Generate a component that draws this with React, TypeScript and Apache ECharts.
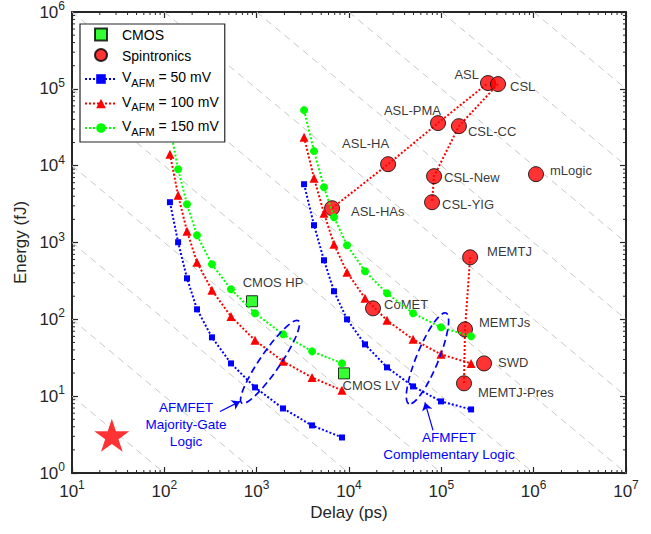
import React, { useEffect, useRef } from 'react';
import * as echarts from 'echarts';

// ---------------- data ----------------
const delayGroup1 = [115, 141, 176, 226, 328, 527, 960, 1930, 3980, 8400];
const delayGroup2 = [3260, 4180, 5360, 6880, 9520, 14900, 25800, 49400, 99200, 210000];

const energy50mV_1 = [3345, 1008, 342, 135, 58.3, 26.7, 13.0, 6.92, 4.16, 2.9];
const energy50mV_2 = [5741, 1679, 587, 232, 100, 47.2, 23.7, 13.4, 8.55, 6.72];
const energy100mV_1 = [14120, 4127, 1402, 553, 239, 109, 53.3, 28.4, 17.5, 11.9];
const energy100mV_2 = [23500, 6874, 2405, 948, 410, 188, 97.0, 54.9, 35.0, 26.7];
const energy150mV_1 = [31760, 9000, 3150, 1243, 521, 246, 120, 63.8, 38.3, 26.7];
const energy150mV_2 = [52860, 15450, 5248, 2133, 921, 422, 218, 120, 78.7, 60.1];

const spinNames = ['ASL', 'CSL', 'ASL-PMA', 'CSL-CC', 'ASL-HA', 'CSL-New', 'CSL-YIG', 'mLogic', 'MEMTJ', 'MEMTJs', 'SWD', 'MEMTJ-Pres', 'ASL-HAs', 'CoMET'];
const spinDelay = [320000, 411000, 92000, 155000, 26500, 83400, 79300, 1060000, 205000, 180500, 290000, 176000, 6550, 18200];
const spinEnergy = [118900, 115300, 35800, 32700, 10450, 7300, 3345, 7750, 642, 74.1, 26.7, 14.7, 2794, 139];

const cmosNames = ['CMOS HP', 'CMOS LV'];
const cmosDelay = [890, 8830];
const cmosEnergy = [172, 19.8];

const aslChain = ['ASL-HAs', 'ASL-HA', 'ASL-PMA', 'ASL'];
const cslChain = ['CSL', 'CSL-CC', 'CSL-New', 'CSL-YIG'];
const memtjChain = ['MEMTJ', 'MEMTJs', 'MEMTJ-Pres'];

const starPoint = [27, 3.1];

// constant energy-delay product guide lines (fJ*ps)
const edpConstants = [1e2, 1e3, 1e4, 1e5, 1e6, 1e7, 1e8, 1e9, 1e10, 1e11, 1e12];

// annotations (data coordinates)
const ellipseCenters = [[1395, 27.9], [70800, 31.0]];
const arrowFrom = [[401, 6.33], [81300, 3.58]];
const arrowTo = [[660, 8.55], [66500, 8.29]];
const noteTexts = ['AFMFET\nMajority-Gate\nLogic', 'AFMFET\nComplementary Logic'];
const notePoints = [[171.7, 4.29], [121000, 2.25]];

const xDecades = [10, 100, 1000, 10000, 100000, 1000000];
const yDecades = [1, 10, 100, 1000, 10000, 100000];
const minorMultipliers = [2, 3, 4, 5, 6, 7, 8, 9];

// ---------------- styles ----------------
const fontFamily = '"Liberation Sans", Arial, Helvetica, sans-serif';
const axisColor = '#262626';
const ellipseShapes = [
  { rx: 50, ry: 10, angle: 55.5 },
  { rx: 49, ry: 11, angle: 67.7 },
];
const spinLabelLayout: Record<string, { position: string; offset: number[] }> = {
  'ASL': { position: 'left', offset: [4, -9] },
  'CSL': { position: 'right', offset: [-1, 2] },
  'ASL-PMA': { position: 'left', offset: [16, -12.5] },
  'CSL-CC': { position: 'right', offset: [-4, 5] },
  'ASL-HA': { position: 'top', offset: [-22.5, -1.5] },
  'CSL-New': { position: 'right', offset: [-3, 1] },
  'CSL-YIG': { position: 'right', offset: [-3, 2] },
  'mLogic': { position: 'right', offset: [1, -4] },
  'MEMTJ': { position: 'right', offset: [4, -6] },
  'MEMTJs': { position: 'right', offset: [1, -7] },
  'SWD': { position: 'right', offset: [1, -1] },
  'MEMTJ-Pres': { position: 'right', offset: [1, 9] },
  'ASL-HAs': { position: 'right', offset: [6, 3] },
  'CoMET': { position: 'right', offset: [-2, -4] },
};
const cmosLabelLayout: Record<string, { position: string; offset: number[] }> = {
  'CMOS HP': { position: 'top', offset: [21, -1] },
  'CMOS LV': { position: 'right', offset: [-12.5, 12] },
};

const legendText: Record<string, string> = {
  CMOS: '{p|CMOS}',
  Spintronics: '{p|Spintronics}',
  V50: '{t|V}{sub|AFM}{t| = 50 mV}',
  V100: '{t|V}{sub|AFM}{t| = 100 mV}',
  V150: '{t|V}{sub|AFM}{t| = 150 mV}',
};

const STAR_PATH = 'path://M50 0 L61.23 34.55 L97.55 34.55 L68.16 55.9 L79.39 90.45 L50 69.1 L20.61 90.45 L31.84 55.9 L2.45 34.55 L38.77 34.55 Z';
const SQUARE_ICON = 'path://M0 0 H10 V10 H0 Z';

function pairs(xs: number[], ys: number[]) {
  return xs.map((x, i) => [x, ys[i]]);
}

function chainData(names: string[]) {
  return names.map((n) => {
    const i = spinNames.indexOf(n);
    return [spinDelay[i], spinEnergy[i]];
  });
}

function buildOption() {
  const supRich = {
    b: { fontSize: 17, lineHeight: 24, color: axisColor, fontFamily },
    sup: { fontSize: 12, lineHeight: 12, verticalAlign: 'top', color: axisColor, fontFamily },
  };
  const powLabel = (v: number) => `{b|10}{sup|${Math.round(Math.log10(v))}}`;

  const baseX = {
    type: 'log', logBase: 10, min: 10, max: 1e7, splitNumber: 6,
    splitLine: { show: false },
    axisLine: { show: true, onZero: false, lineStyle: { color: axisColor, width: 2 } },
    axisTick: { show: true, inside: true, length: 6, lineStyle: { color: axisColor, width: 1.2 } },
  };
  const baseY = {
    type: 'log', logBase: 10, min: 1, max: 1e6, splitNumber: 6,
    splitLine: { show: false },
    axisLine: { show: true, onZero: false, lineStyle: { color: axisColor, width: 2 } },
    axisTick: { show: true, inside: true, length: 6, lineStyle: { color: axisColor, width: 1.2 } },
  };

  const xMinor: number[][] = [];
  xDecades.forEach((d) => minorMultipliers.forEach((m) => xMinor.push([d * m, 1])));
  const yMinor: number[][] = [];
  yDecades.forEach((d) => minorMultipliers.forEach((m) => yMinor.push([10, d * m])));

  const guideSeries = edpConstants.map((c) => {
    const dMin = Math.max(10, c / 1e6);
    const dMax = Math.min(1e7, c / 1);
    return {
      type: 'line', silent: true, symbol: 'none', z: 1,
      data: [[dMin, c / dMin], [dMax, c / dMax]],
      lineStyle: { color: '#c8c8c8', width: 1, type: [7, 5] },
    };
  });

  const chainSeries = [aslChain, cslChain, memtjChain].map((ch) => ({
    type: 'line', silent: true, symbol: 'none', z: 2,
    data: chainData(ch),
    lineStyle: { color: '#ff0000', width: 2, type: [2, 2] },
  }));

  const afm = (name: string, color: string, symbol: string, size: number, xs: number[], ys: number[]) => ({
    name, type: 'line', silent: true, z: 4,
    symbol, symbolSize: size,
    data: pairs(xs, ys),
    itemStyle: { color },
    lineStyle: { color, width: 2, type: [2, 2] },
  });

  const minorTickStyle = { stroke: axisColor, lineWidth: 1 };

  return {
    animation: false,
    backgroundColor: '#ffffff',
    textStyle: { fontFamily },
    grid: { left: 72, top: 12, right: 25, bottom: 61, containLabel: false, outerBoundsMode: 'none' },
    legend: {
      show: true, orient: 'vertical', left: 80, top: 24, z: 20,
      data: [
        { name: 'CMOS', icon: SQUARE_ICON },
        { name: 'Spintronics', icon: 'circle' },
        'V50', 'V100', 'V150',
      ],
      selectedMode: false,
      itemWidth: 32, itemHeight: 12, itemGap: 3.5,
      padding: [2, 6, 5, 4],
      backgroundColor: '#ffffff', borderColor: axisColor, borderWidth: 1.2, borderRadius: 0,
      formatter: (name: string) => legendText[name] || name,
      textStyle: {
        fontSize: 14, color: '#000', fontFamily,
        rich: {
          p: { fontSize: 14, lineHeight: 15, padding: [2, 0, 1, 0], color: '#000', fontFamily },
          t: { fontSize: 14, lineHeight: 18, verticalAlign: 'top', color: '#000', fontFamily },
          sub: { fontSize: 11, lineHeight: 11, padding: [10, 0, 0, 0], verticalAlign: 'bottom', color: '#000', fontFamily },
        },
      },
    },
    xAxis: [
      {
        ...baseX, position: 'bottom',
        name: 'Delay (ps)', nameLocation: 'middle', nameGap: 31,
        nameTextStyle: { fontSize: 17, color: axisColor, fontFamily },
        axisLabel: { show: true, formatter: powLabel, rich: supRich, margin: 6, showMinLabel: true, showMaxLabel: true },
      },
      { ...baseX, position: 'top', axisLabel: { show: false } },
    ],
    yAxis: [
      {
        ...baseY, position: 'left',
        name: 'Energy (fJ)', nameLocation: 'middle', nameGap: 40,
        nameTextStyle: { fontSize: 17, color: axisColor, fontFamily },
        axisLabel: { show: true, formatter: powLabel, rich: supRich, margin: 7, showMinLabel: true, showMaxLabel: true },
      },
      { ...baseY, position: 'right', axisLabel: { show: false } },
    ],
    series: [
      ...guideSeries,
      ...chainSeries,
      {
        name: 'CMOS', type: 'scatter', silent: true, z: 3,
        symbol: 'rect', symbolSize: 11,
        itemStyle: { color: '#00ff00', borderColor: '#000', borderWidth: 1 },
        label: { show: true, formatter: '{b}', color: '#000', fontSize: 13, fontFamily },
        data: cmosNames.map((n, i) => ({
          name: n, value: [cmosDelay[i], cmosEnergy[i]],
          label: { position: cmosLabelLayout[n].position, offset: cmosLabelLayout[n].offset },
        })),
      },
      {
        name: 'Spintronics', type: 'scatter', silent: true, z: 3,
        symbol: 'circle', symbolSize: 15,
        itemStyle: { color: '#ff0000', borderColor: '#000', borderWidth: 1 },
        label: { show: true, formatter: '{b}', color: '#000', fontSize: 13, fontFamily },
        data: spinNames.map((n, i) => ({
          name: n, value: [spinDelay[i], spinEnergy[i]],
          label: { position: spinLabelLayout[n].position, offset: spinLabelLayout[n].offset },
        })),
      },
      afm('V50', '#0000ff', 'rect', 6, delayGroup1, energy50mV_1),
      afm('V50', '#0000ff', 'rect', 6, delayGroup2, energy50mV_2),
      afm('V100', '#ff0000', 'triangle', 9, delayGroup1, energy100mV_1),
      afm('V100', '#ff0000', 'triangle', 9, delayGroup2, energy100mV_2),
      afm('V150', '#00ff00', 'circle', 8, delayGroup1, energy150mV_1),
      afm('V150', '#00ff00', 'circle', 8, delayGroup2, energy150mV_2),
      {
        type: 'scatter', silent: true, z: 4,
        symbol: STAR_PATH, symbolSize: [35, 33],
        itemStyle: { color: '#ff0000' },
        data: [starPoint],
      },
      {
        type: 'custom', silent: true, z: 6,
        data: ellipseCenters,
        renderItem: (params: any, api: any) => {
          const c = api.coord([api.value(0), api.value(1)]);
          const s = ellipseShapes[params.dataIndex];
          return {
            type: 'ellipse', x: c[0], y: c[1], rotation: (s.angle * Math.PI) / 180,
            shape: { cx: 0, cy: 0, rx: s.rx, ry: s.ry },
            style: { fill: 'none', stroke: '#0000ff', lineWidth: 1.7, lineDash: [7, 4] },
          };
        },
      },
      {
        type: 'lines', coordinateSystem: 'cartesian2d', silent: true, z: 6,
        symbol: ['none', 'arrow'], symbolSize: 8,
        lineStyle: { color: '#0000ff', width: 1.2, opacity: 1 },
        data: arrowFrom.map((f, i) => ({ coords: [f, arrowTo[i]] })),
      },
      {
        type: 'custom', silent: true, z: 6,
        data: notePoints,
        renderItem: (params: any, api: any) => {
          const c = api.coord([api.value(0), api.value(1)]);
          return {
            type: 'text', x: c[0], y: c[1],
            style: {
              text: noteTexts[params.dataIndex], fill: '#0000ff', fontSize: 13.5, fontFamily,
              align: 'center', verticalAlign: 'middle', lineHeight: 17,
            },
          };
        },
      },
      {
        type: 'custom', silent: true, z: 10,
        data: xMinor,
        renderItem: (params: any, api: any) => {
          const p = api.coord([api.value(0), api.value(1)]);
          const cs = params.coordSys;
          return {
            type: 'group', children: [
              { type: 'line', shape: { x1: p[0], y1: cs.y + cs.height, x2: p[0], y2: cs.y + cs.height - 3 }, style: minorTickStyle },
              { type: 'line', shape: { x1: p[0], y1: cs.y, x2: p[0], y2: cs.y + 3 }, style: minorTickStyle },
            ],
          };
        },
      },
      {
        type: 'custom', silent: true, z: 10,
        data: yMinor,
        renderItem: (params: any, api: any) => {
          const p = api.coord([api.value(0), api.value(1)]);
          const cs = params.coordSys;
          return {
            type: 'group', children: [
              { type: 'line', shape: { x1: cs.x, y1: p[1], x2: cs.x + 3, y2: p[1] }, style: minorTickStyle },
              { type: 'line', shape: { x1: cs.x + cs.width, y1: p[1], x2: cs.x + cs.width - 3, y2: p[1] }, style: minorTickStyle },
            ],
          };
        },
      },
    ],
  };
}

export default function App() {
  const ref = useRef<HTMLDivElement>(null);
  useEffect(() => {
    if (!ref.current) return;
    const chart = echarts.init(ref.current, null, { renderer: 'svg' });
    chart.setOption(buildOption() as any);
    return () => chart.dispose();
  }, []);
  return (
    <div
      ref={ref}
      style={{ position: 'fixed', left: 0, top: 0, width: 651, height: 534, background: '#fff' }}
    />
  );
}
